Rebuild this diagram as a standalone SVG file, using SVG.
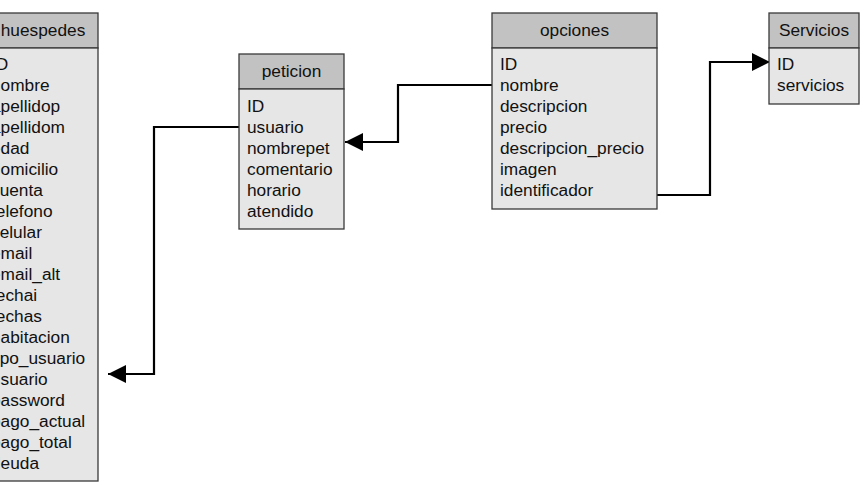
<svg xmlns="http://www.w3.org/2000/svg" width="866" height="494" viewBox="0 0 866 494">
<defs>
<style>
.hd{fill:#c2c2c2;stroke:#3a3a3a;stroke-width:1.3}
.bd{fill:#e6e6e6;stroke:#3a3a3a;stroke-width:1.3}
text{font-family:"Liberation Sans",Arial,sans-serif;font-size:17.3px;fill:#111}
.t{text-anchor:middle}
.c{fill:none;stroke:#000;stroke-width:2.2}
</style>
<marker id="ah" viewBox="0 0 10 10" refX="10" refY="5" markerWidth="18" markerHeight="18" markerUnits="userSpaceOnUse" orient="auto">
<path d="M0,0 L10,5 L0,10 Z" fill="#000"/>
</marker>
</defs>
<rect width="866" height="494" fill="#fff"/>
<g id="connectors">
<path class="c" d="M239,127 H154 V374 H108" marker-end="url(#ah)"/>
<path class="c" d="M492,85 H398 V142 H345" marker-end="url(#ah)"/>
<path class="c" d="M657,195 H710 V62 H770" marker-end="url(#ah)"/>
</g>
<g id="huespedes">
<rect class="hd" x="-17" y="13" width="115" height="35"/>
<rect class="bd" x="-17" y="48" width="115" height="433"/>
<text class="t" x="43" y="36">huespedes</text>
<text x="-9" y="70">ID</text>
<text x="-9" y="91">nombre</text>
<text x="-9" y="112">apellidop</text>
<text x="-9" y="133">apellidom</text>
<text x="-9" y="154">edad</text>
<text x="-9" y="175">domicilio</text>
<text x="-9" y="196">cuenta</text>
<text x="-9" y="217">telefono</text>
<text x="-9" y="238">celular</text>
<text x="-9" y="259">email</text>
<text x="-9" y="280">email_alt</text>
<text x="-9" y="301">fechai</text>
<text x="-9" y="322">fechas</text>
<text x="-9" y="343">habitacion</text>
<text x="-9" y="364">tipo_usuario</text>
<text x="-9" y="385">usuario</text>
<text x="-9" y="406">password</text>
<text x="-9" y="427">pago_actual</text>
<text x="-9" y="448">pago_total</text>
<text x="-9" y="469">deuda</text>
</g>
<g id="peticion">
<rect class="hd" x="239" y="54" width="105" height="35"/>
<rect class="bd" x="239" y="89" width="105" height="140"/>
<text class="t" x="291.5" y="77">peticion</text>
<text x="247" y="112">ID</text>
<text x="247" y="133">usuario</text>
<text x="247" y="154">nombrepet</text>
<text x="247" y="175">comentario</text>
<text x="247" y="196">horario</text>
<text x="247" y="217">atendido</text>
</g>
<g id="opciones">
<rect class="hd" x="492" y="13" width="165" height="35"/>
<rect class="bd" x="492" y="48" width="165" height="161"/>
<text class="t" x="574.5" y="36">opciones</text>
<text x="500" y="70">ID</text>
<text x="500" y="91">nombre</text>
<text x="500" y="112">descripcion</text>
<text x="500" y="133">precio</text>
<text x="500" y="154">descripcion_precio</text>
<text x="500" y="175">imagen</text>
<text x="500" y="196">identificador</text>
</g>
<g id="Servicios">
<rect class="hd" x="769" y="13" width="90" height="35"/>
<rect class="bd" x="769" y="48" width="90" height="56"/>
<text class="t" x="814" y="36">Servicios</text>
<text x="777" y="70">ID</text>
<text x="777" y="91">servicios</text>
</g>
</svg>
